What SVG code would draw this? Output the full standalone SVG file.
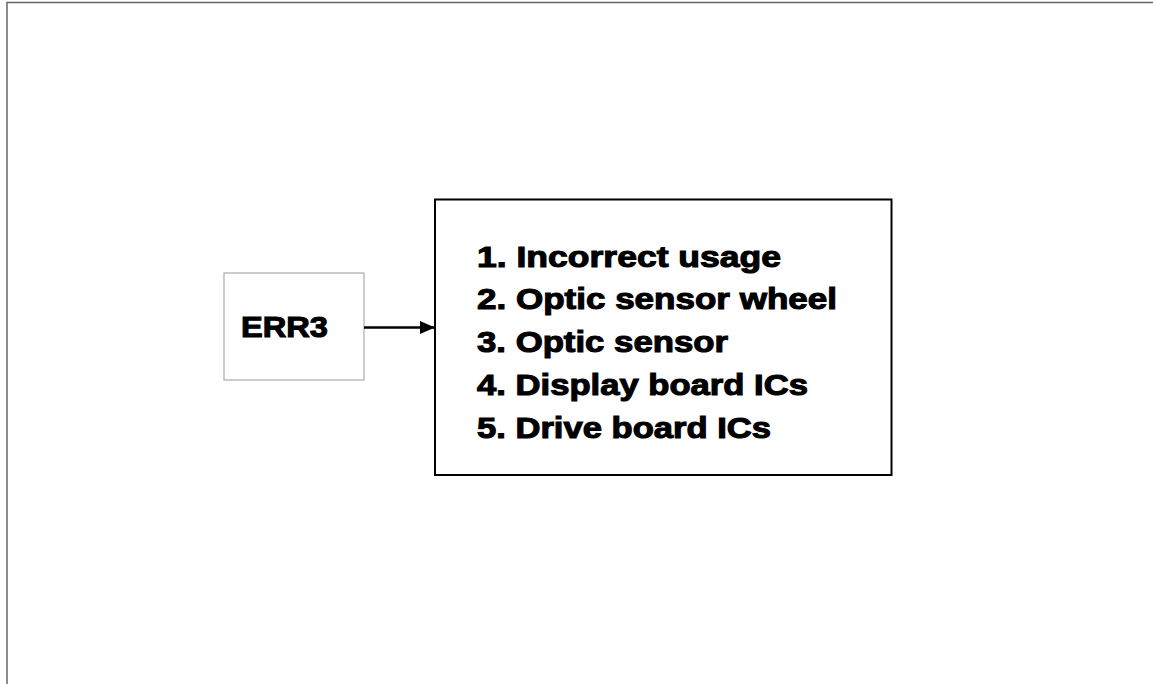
<svg xmlns="http://www.w3.org/2000/svg" width="1153" height="684" viewBox="0 0 1153 684">
<style>
.t{font-family:"Liberation Sans",Arial,sans-serif;font-weight:bold;font-size:30px;fill:#000;stroke:#000;stroke-width:1.1}
</style>
<defs>
<marker id="ah" markerWidth="15" markerHeight="13" refX="14" refY="6.5" orient="auto" markerUnits="userSpaceOnUse">
<path d="M0,0 L15,6.5 L0,13 Z" fill="#000"/>
</marker>
</defs>
<rect width="1153" height="684" fill="#fff"/>
<g id="frame">
<path d="M7,684 V2.5 H1153" fill="none" stroke="#666" stroke-width="1.5"/>
</g>
<g id="err3">
<rect x="224" y="273" width="140" height="107" fill="#fff" stroke="#aaa" stroke-width="1.2"/>
<text class="t" x="241" y="337" textLength="87" lengthAdjust="spacingAndGlyphs">ERR3</text>
</g>
<g id="causes">
<rect x="435" y="199.5" width="456.5" height="275.5" fill="#fff" stroke="#000" stroke-width="2"/>
<text class="t" x="477" y="267" textLength="304" lengthAdjust="spacingAndGlyphs">1. Incorrect usage</text>
<text class="t" x="477" y="309" textLength="360" lengthAdjust="spacingAndGlyphs">2. Optic sensor wheel</text>
<text class="t" x="477" y="352" textLength="251" lengthAdjust="spacingAndGlyphs">3. Optic sensor</text>
<text class="t" x="477" y="395" textLength="331" lengthAdjust="spacingAndGlyphs">4. Display board ICs</text>
<text class="t" x="477" y="438" textLength="294" lengthAdjust="spacingAndGlyphs">5. Drive board ICs</text>
</g>
<g id="connectors">
<line x1="364" y1="327.5" x2="434" y2="327.5" stroke="#000" stroke-width="2.3" marker-end="url(#ah)"/>
</g>
</svg>
